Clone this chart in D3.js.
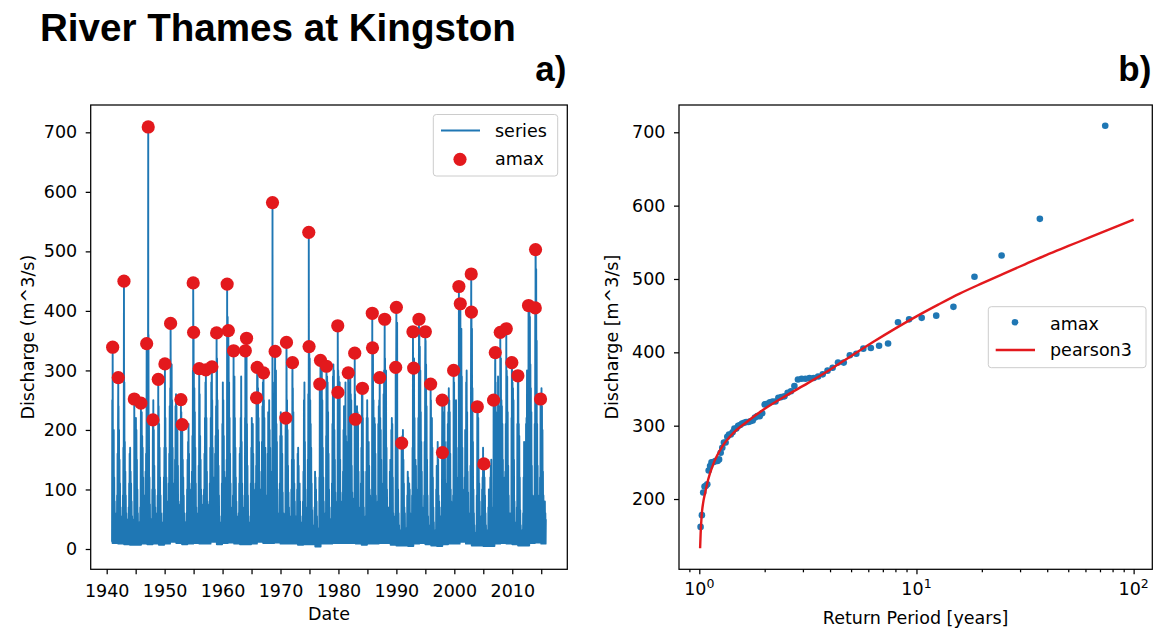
<!DOCTYPE html>
<html>
<head>
<meta charset="utf-8">
<script src="https://cdn.jsdelivr.net/npm/d3@7"></script>
<style>
  body { margin: 0; background: #fff; }
  svg text { font-family: "DejaVu Sans", sans-serif; fill: #000; }
</style>
</head>
<body>
<svg id="fig" width="1157" height="632"></svg>
<script>
// ---------------------------------------------------------------------------
// Discharge (m^3/s), one row per calendar year:
//   [year, base flow between events, peak flow Jan ... Dec]
// ---------------------------------------------------------------------------
const flow1940s = [
  [1940, 12, null, null, null, null, null, null, null, null, null, null, null, 250],
  [1941, 10, 260, 170, 200, 120, 80, 55, 40, 50, 60, 90, 160, 220],
  [1942, 9, 240, 200, 150, 110, 70, 50, 35, 45, 55, 90, 170, 300],
  [1943, 8, 280, 180, 130, 90, 60, 45, 30, 40, 50, 70, 110, 160],
  [1944, 7, 170, 130, 110, 80, 55, 40, 28, 35, 50, 140, 210, 190],
  [1945, 7, 220, 200, 150, 100, 60, 45, 30, 35, 45, 70, 160, 210],
  [1946, 9, 230, 190, 170, 120, 90, 70, 60, 90, 130, 160, 210, 260],
  [1947, 8, 220, 200, 360, 220, 120, 75, 50, 40, 35, 50, 100, 180],
  [1948, 9, 250, 200, 140, 100, 70, 50, 40, 50, 60, 90, 180, 240],
  [1949, 7, 210, 170, 120, 90, 60, 45, 30, 35, 40, 60, 120, 170]
];
const flow1950s = [
  [1950, 9, 280, 220, 170, 120, 80, 60, 50, 80, 110, 160, 240, 270],
  [1951, 12, 320, 290, 310, 250, 170, 110, 80, 90, 110, 150, 240, 260],
  [1952, 10, 240, 180, 200, 140, 80, 60, 45, 50, 75, 150, 230, 200],
  [1953, 8, 200, 150, 120, 90, 60, 45, 30, 35, 45, 60, 100, 150],
  [1954, 9, 180, 210, 160, 110, 80, 70, 70, 100, 130, 190, 300, 340],
  [1955, 10, 310, 270, 230, 170, 110, 70, 45, 35, 40, 60, 140, 260],
  [1956, 9, 260, 190, 150, 100, 70, 55, 55, 75, 90, 100, 160, 220],
  [1957, 9, 280, 270, 220, 130, 80, 55, 45, 55, 75, 110, 170, 220],
  [1958, 12, 280, 290, 250, 170, 120, 100, 90, 120, 160, 190, 240, 320],
  [1959, 8, 320, 250, 200, 140, 90, 55, 35, 28, 25, 45, 110, 210]
];
const flow1960s = [
  [1960, 10, 280, 250, 190, 130, 90, 75, 90, 120, 150, 310, 390, 360],
  [1961, 11, 330, 280, 220, 160, 110, 70, 50, 45, 55, 90, 190, 290],
  [1962, 9, 290, 220, 170, 120, 80, 55, 40, 35, 45, 60, 110, 160],
  [1963, 8, 170, 220, 290, 180, 110, 70, 55, 50, 55, 90, 220, 260],
  [1964, 8, 290, 320, 210, 140, 90, 55, 35, 30, 28, 45, 110, 170],
  [1965, 9, 220, 200, 210, 160, 100, 70, 55, 70, 110, 140, 220, 280],
  [1966, 12, 300, 270, 220, 180, 130, 100, 80, 70, 100, 180, 240, 280],
  [1967, 10, 280, 250, 220, 150, 170, 90, 60, 55, 90, 160, 230, 210],
  [1968, 10, 250, 200, 170, 130, 90, 75, 100, 70, 220, 260, 240, 280],
  [1969, 11, 300, 270, 300, 210, 180, 100, 60, 45, 40, 55, 110, 190]
];
const flow1970s = [
  [1970, 9, 230, 210, 190, 160, 95, 60, 45, 35, 40, 60, 200, 210],
  [1971, 9, 320, 250, 200, 140, 95, 70, 50, 40, 35, 55, 100, 150],
  [1972, 9, 290, 270, 230, 150, 110, 80, 55, 45, 40, 55, 100, 160],
  [1973, 7, 170, 140, 100, 110, 80, 55, 35, 30, 32, 45, 80, 130],
  [1974, 8, 250, 280, 180, 100, 70, 50, 40, 60, 150, 260, 340, 330],
  [1975, 8, 320, 250, 210, 170, 110, 65, 40, 28, 26, 35, 70, 130],
  [1976, 4, 120, 100, 80, 55, 35, 22, 14, 10, 120, 240, 260, 290],
  [1977, 9, 290, 300, 250, 170, 120, 80, 55, 45, 40, 60, 190, 280],
  [1978, 9, 290, 280, 230, 160, 100, 70, 50, 40, 35, 50, 110, 210],
  [1979, 10, 290, 310, 300, 200, 150, 95, 60, 45, 40, 80, 260, 300]
];
const flow1980s = [
  [1980, 10, 290, 270, 280, 150, 95, 80, 70, 55, 60, 130, 200, 240],
  [1981, 10, 220, 190, 280, 190, 180, 110, 70, 55, 210, 230, 200, 280],
  [1982, 10, 300, 260, 250, 140, 95, 85, 60, 50, 55, 180, 260, 210],
  [1983, 9, 230, 210, 240, 230, 220, 130, 70, 45, 40, 55, 110, 170],
  [1984, 7, 260, 260, 220, 130, 70, 45, 30, 22, 55, 130, 220, 250],
  [1985, 9, 220, 170, 180, 140, 100, 90, 70, 60, 55, 70, 240, 330],
  [1986, 9, 250, 170, 220, 210, 160, 90, 55, 60, 45, 80, 210, 240],
  [1987, 10, 250, 280, 220, 200, 150, 110, 70, 55, 50, 260, 300, 310],
  [1988, 10, 320, 290, 300, 170, 100, 60, 70, 55, 45, 70, 130, 150],
  [1989, 7, 140, 200, 220, 210, 120, 60, 35, 28, 28, 55, 150, 290]
];
const flow1990s = [
  [1990, 6, 340, 380, 170, 100, 60, 40, 25, 18, 18, 32, 90, 170],
  [1991, 6, 190, 200, 150, 110, 70, 60, 35, 25, 22, 35, 90, 130],
  [1992, 5, 120, 100, 110, 100, 60, 35, 45, 50, 90, 170, 310, 300],
  [1993, 9, 320, 220, 130, 150, 140, 80, 55, 45, 100, 220, 260, 360],
  [1994, 10, 340, 300, 230, 180, 130, 70, 45, 35, 55, 90, 180, 300],
  [1995, 8, 350, 310, 240, 150, 90, 55, 32, 22, 25, 40, 130, 250],
  [1996, 6, 200, 220, 170, 120, 70, 45, 28, 22, 22, 32, 100, 140],
  [1997, 5, 120, 180, 150, 90, 80, 70, 50, 55, 35, 45, 150, 200],
  [1998, 8, 230, 160, 200, 240, 180, 110, 60, 45, 55, 180, 210, 230],
  [1999, 9, 270, 250, 230, 160, 100, 80, 50, 40, 45, 90, 200, 280]
];
const flow2000s = [
  [2000, 9, 230, 200, 180, 250, 170, 100, 60, 55, 120, 310, 420, 390],
  [2001, 12, 400, 350, 370, 290, 170, 100, 70, 55, 50, 120, 200, 160],
  [2002, 9, 280, 300, 230, 130, 95, 60, 55, 45, 40, 140, 300, 400],
  [2003, 6, 370, 270, 180, 100, 60, 40, 25, 18, 18, 28, 90, 210],
  [2004, 6, 230, 220, 150, 110, 80, 50, 35, 45, 55, 100, 120, 170],
  [2005, 5, 135, 130, 120, 90, 60, 40, 28, 22, 22, 32, 70, 100],
  [2006, 5, 90, 100, 120, 140, 150, 70, 35, 55, 60, 160, 240, 240],
  [2007, 9, 310, 280, 230, 110, 150, 210, 290, 240, 120, 90, 170, 250],
  [2008, 10, 320, 250, 240, 210, 150, 90, 60, 90, 120, 130, 210, 250],
  [2009, 9, 300, 290, 230, 140, 90, 55, 60, 40, 32, 45, 220, 300]
];
const flow2010s = [
  [2010, 8, 280, 270, 250, 150, 80, 45, 30, 32, 35, 70, 210, 250],
  [2011, 6, 280, 210, 190, 120, 65, 40, 25, 25, 28, 32, 60, 120],
  [2012, 6, 180, 130, 90, 110, 210, 220, 300, 180, 140, 240, 350, 400],
  [2013, 10, 390, 310, 270, 230, 140, 90, 55, 40, 35, 90, 210, 350],
  [2014, 11, 490, 470, 350, 210, 140, 90, 60, 50, 45, 120, 240, 230],
  [2015, 9, 270, 240, 200, 130, 90, 55, 45, 80, 60, 50]
];

// Annual maxima: date (decimal year) and peak discharge (m^3/s)
const amaxDate = [
  1941.03, 1942.00, 1942.98, 1944.76, 1945.91, 1946.90, 1947.17, 1947.98, 1948.90, 1950.05,
  1951.03, 1952.81, 1953.03, 1954.93, 1955.00, 1955.97, 1957.12, 1958.16, 1958.97, 1960.79,
  1961.00, 1961.90, 1963.93, 1964.14, 1965.86, 1965.97, 1967.07, 1968.62, 1969.07, 1970.91,
  1971.03, 1972.07, 1974.88, 1974.93, 1976.78, 1976.90, 1977.93, 1979.88, 1979.91, 1981.69,
  1982.81, 1982.93, 1984.14, 1985.84, 1985.88, 1987.12, 1987.98, 1989.88, 1990.00, 1990.91,
  1992.86, 1992.98, 1993.90, 1995.00, 1995.91, 1997.92, 1997.95, 1999.88, 2000.79, 2001.03,
  2002.92, 2002.95, 2003.97, 2005.10, 2006.78, 2007.07, 2007.93, 2008.97, 2009.93, 2010.97,
  2012.81, 2013.97, 2014.02, 2014.88
];
const amaxFlow = [
  339, 288, 450, 252, 245, 345, 709, 217, 285, 311,
  379, 251, 209, 447, 364, 303, 301, 306, 363, 445,
  367, 333, 333, 354, 254, 305, 296, 582, 332, 220,
  347, 313, 532, 340, 277, 317, 307, 375, 263, 296,
  329, 218, 270, 396, 338, 288, 386, 305, 406, 178,
  365, 304, 386, 365, 277, 250, 162, 300, 441, 412,
  462, 398, 239, 143, 250, 330, 364, 370, 313, 291,
  409, 405, 503, 252
];

// Ranked annual maxima used for the frequency plot (largest first)
const rankedAmax = [
  709, 582, 532, 503, 462, 450, 447, 445, 441, 412, 409, 406, 405, 398, 396,
  386, 386, 379, 375, 370, 367, 365, 365, 364, 364, 363, 354, 347, 345, 340,
  339, 338, 333, 333, 332, 330, 329, 317, 313, 313, 311, 307, 306, 305, 305,
  304, 303, 301, 300, 296, 296, 291, 288, 288, 285, 277, 277, 270, 263, 254,
  252, 252, 251, 250, 250, 245, 239, 220, 218, 217, 209, 178, 162
];

// Fitted Pearson type III curve: return period (years) and discharge
const p3Period = [1.0085, 1.014, 1.02, 1.027, 1.042, 1.063, 1.097, 1.161, 1.279, 1.413,
  1.652, 2.0, 2.51, 3.16, 3.98, 5.01, 6.31, 7.94, 10, 12.6, 15.8, 20, 25.1, 31.6, 39.8,
  50.1, 63.1, 79.4, 100];
const p3Flow = [133, 152, 167, 180, 195, 208, 226, 248, 272, 288,
  305, 323, 341, 358, 376, 395, 414, 432, 449, 465, 480, 494, 507, 520, 533,
  545, 557, 569, 581];

// Tick values
const yearTicks = [1940, 1950, 1960, 1970, 1980, 1990, 2000, 2010];
const yearMinorTicks = [1945, 1955, 1965, 1975, 1985, 1995, 2005, 2015];
const seriesTicks = [0, 100, 200, 300, 400, 500, 600, 700];
const freqTicks = [200, 300, 400, 500, 600, 700];
const periodTicks = [1, 10, 100];
const periodMinorTicks = [0.9, 2, 3, 4, 5, 6, 7, 8, 9, 20, 30, 40, 50, 60, 70, 80, 90];

// ---------------------------------------------------------------------------
const BLUE = "#1f77b4";
const RED = "#e3191d";
const FONT = 17.5;

const svg = d3.select("#fig");

// Build the series: each month falls back to base flow, then rises to its peak;
// the annual maxima are threaded through at their own dates.
const rows = [].concat(flow1940s, flow1950s, flow1960s, flow1970s,
                       flow1980s, flow1990s, flow2000s, flow2010s);
const series = [];
rows.forEach(r => {
  const yr = r[0], base = r[1];
  r.slice(2).forEach((q, m) => {
    if (q === null) return;
    series.push({ t: yr + (m + 0.1) / 12, q: base });
    series.push({ t: yr + (m + 0.55) / 12, q });
  });
});
const amax = amaxDate.map((t, i) => ({ t, q: amaxFlow[i] }));
amax.forEach(p => series.push(p));
series.sort((a, b) => a.t - b.t);

// ---------------------- panel a) time series -------------------------------
const A = { left: 90.7, right: 567.3, top: 105, bottom: 569.3 };
const xA = d3.scaleLinear().domain([1937.24, 2019.5]).range([A.left, A.right]);
const yA = d3.scaleLinear().domain([-34.1, 745.9]).range([A.bottom, A.top]);

svg.append("clipPath").attr("id", "clipA")
  .append("rect").attr("x", A.left).attr("y", A.top)
  .attr("width", A.right - A.left).attr("height", A.bottom - A.top);

const gA = svg.append("g");
gA.append("path")
  .datum(series)
  .attr("clip-path", "url(#clipA)")
  .attr("fill", "none")
  .attr("stroke", BLUE)
  .attr("stroke-width", 1.9)
  .attr("stroke-linejoin", "round")
  .attr("d", d3.line().x(d => xA(d.t)).y(d => yA(d.q)));

gA.append("g").attr("clip-path", "url(#clipA)")
  .selectAll("circle").data(amax).join("circle")
  .attr("cx", d => xA(d.t)).attr("cy", d => yA(d.q))
  .attr("r", 6.6).attr("fill", RED);

function styleAxis(g) {
  g.select(".domain").remove();
  g.selectAll(".tick line").attr("stroke", "#000").attr("stroke-width", 1.25);
  g.selectAll(".tick text").attr("font-size", FONT).attr("fill", "#000")
    .attr("font-family", "DejaVu Sans, sans-serif");
}

gA.append("g").attr("transform", `translate(${A.left},0)`)
  .call(d3.axisLeft(yA).tickValues(seriesTicks).tickFormat(d3.format("d"))
    .tickSize(5).tickPadding(8.5))
  .call(styleAxis);

gA.append("g").attr("transform", `translate(0,${A.bottom})`)
  .call(d3.axisBottom(xA).tickValues(yearTicks).tickFormat(d3.format("d"))
    .tickSize(5).tickPadding(9.8))
  .call(styleAxis);

gA.append("g").attr("transform", `translate(0,${A.bottom})`)
  .call(d3.axisBottom(xA).tickValues(yearMinorTicks).tickFormat("").tickSize(5))
  .call(styleAxis);

gA.append("rect")
  .attr("x", A.left).attr("y", A.top)
  .attr("width", A.right - A.left).attr("height", A.bottom - A.top)
  .attr("fill", "none").attr("stroke", "#000").attr("stroke-width", 1.25);

gA.append("text")
  .attr("transform", `translate(27.5,${(A.top + A.bottom) / 2}) rotate(-90)`)
  .attr("text-anchor", "middle").attr("dominant-baseline", "central")
  .attr("font-size", FONT).text("Discharge (m^3/s)");

gA.append("text")
  .attr("x", (A.left + A.right) / 2).attr("y", 620)
  .attr("text-anchor", "middle").attr("font-size", FONT).text("Date");

// legend a)
const legA = gA.append("g");
legA.append("rect").attr("x", 433.3).attr("y", 114.5).attr("width", 124.4).attr("height", 61.5)
  .attr("rx", 3).attr("fill", "#fff").attr("fill-opacity", 0.8)
  .attr("stroke", "#cccccc").attr("stroke-width", 1);
legA.append("line").attr("x1", 441).attr("x2", 480).attr("y1", 130.5).attr("y2", 130.5)
  .attr("stroke", BLUE).attr("stroke-width", 2);
legA.append("text").attr("x", 495).attr("y", 137).attr("font-size", FONT).text("series");
legA.append("circle").attr("cx", 460).attr("cy", 159.3).attr("r", 6.6).attr("fill", RED);
legA.append("text").attr("x", 495).attr("y", 165).attr("font-size", FONT).text("amax");

// ---------------------- panel b) frequency curve ---------------------------
const B = { left: 679, right: 1152.3, top: 105, bottom: 569.3 };
const xB = d3.scaleLog().domain([Math.pow(10, -0.0935), Math.pow(10, 2.086)]).range([B.left, B.right]);
const yB = d3.scaleLinear().domain([104.2, 737.2]).range([B.bottom, B.top]);

const n = rankedAmax.length;
const ranked = rankedAmax.map((q, i) => ({ T: (n + 1) / (i + 1), q }));
const p3 = p3Period.map((T, i) => ({ T, q: p3Flow[i] }));

const gB = svg.append("g");
gB.append("g").selectAll("circle").data(ranked).join("circle")
  .attr("cx", d => xB(d.T)).attr("cy", d => yB(d.q))
  .attr("r", 3.3).attr("fill", BLUE);

gB.append("path").datum(p3)
  .attr("fill", "none").attr("stroke", RED).attr("stroke-width", 2.4)
  .attr("d", d3.line().curve(d3.curveMonotoneX).x(d => xB(d.T)).y(d => yB(d.q)));

gB.append("g").attr("transform", `translate(${B.left},0)`)
  .call(d3.axisLeft(yB).tickValues(freqTicks).tickFormat(d3.format("d"))
    .tickSize(5).tickPadding(8.5))
  .call(styleAxis);

gB.append("g").attr("transform", `translate(0,${B.bottom})`)
  .call(d3.axisBottom(xB).tickValues(periodTicks).tickFormat("").tickSize(5))
  .call(styleAxis);
gB.append("g").attr("transform", `translate(0,${B.bottom})`)
  .call(d3.axisBottom(xB).tickValues(periodMinorTicks).tickFormat("").tickSize(3))
  .call(styleAxis);

// power-of-ten labels
const powLabels = gB.append("g").selectAll("text").data(periodTicks).join("text")
  .attr("x", d => xB(d)).attr("y", 595)
  .attr("text-anchor", "middle").attr("font-size", FONT);
powLabels.append("tspan").text("10");
powLabels.append("tspan").attr("dy", -7).attr("font-size", 12.5)
  .text(d => String(Math.round(Math.log10(d))));

gB.append("rect")
  .attr("x", B.left).attr("y", B.top)
  .attr("width", B.right - B.left).attr("height", B.bottom - B.top)
  .attr("fill", "none").attr("stroke", "#000").attr("stroke-width", 1.25);

gB.append("text")
  .attr("transform", `translate(612,${(B.top + B.bottom) / 2}) rotate(-90)`)
  .attr("text-anchor", "middle").attr("dominant-baseline", "central")
  .attr("font-size", FONT).text("Discharge [m^3/s]");

gB.append("text")
  .attr("x", (B.left + B.right) / 2).attr("y", 623.5)
  .attr("text-anchor", "middle").attr("font-size", FONT).text("Return Period [years]");

// legend b)
const legB = gB.append("g");
legB.append("rect").attr("x", 988.3).attr("y", 306.7).attr("width", 157.7).attr("height", 61)
  .attr("rx", 3).attr("fill", "#fff").attr("fill-opacity", 0.8)
  .attr("stroke", "#cccccc").attr("stroke-width", 1);
legB.append("circle").attr("cx", 1015).attr("cy", 322.3).attr("r", 3.3).attr("fill", BLUE);
legB.append("text").attr("x", 1050).attr("y", 329.5).attr("font-size", FONT).text("amax");
legB.append("line").attr("x1", 995.7).attr("x2", 1035).attr("y1", 350).attr("y2", 350)
  .attr("stroke", RED).attr("stroke-width", 2.4);
legB.append("text").attr("x", 1050).attr("y", 356).attr("font-size", FONT).text("pearson3");

// ---------------------- titles ---------------------------------------------
const BOLD = "'Liberation Sans', Arial, Helvetica, sans-serif";
svg.append("text").attr("x", 40).attr("y", 41)
  .style("font-family", BOLD).attr("font-weight", "bold").attr("font-size", 38.6)
  .text("River Thames at Kingston");
svg.append("text").attr("x", A.right - 1).attr("y", 80.6).attr("text-anchor", "end")
  .style("font-family", BOLD).attr("font-weight", "bold").attr("font-size", 35)
  .text("a)");
svg.append("text").attr("x", B.right - 1).attr("y", 80.6).attr("text-anchor", "end")
  .style("font-family", BOLD).attr("font-weight", "bold").attr("font-size", 35)
  .text("b)");
</script>
</body>
</html>
